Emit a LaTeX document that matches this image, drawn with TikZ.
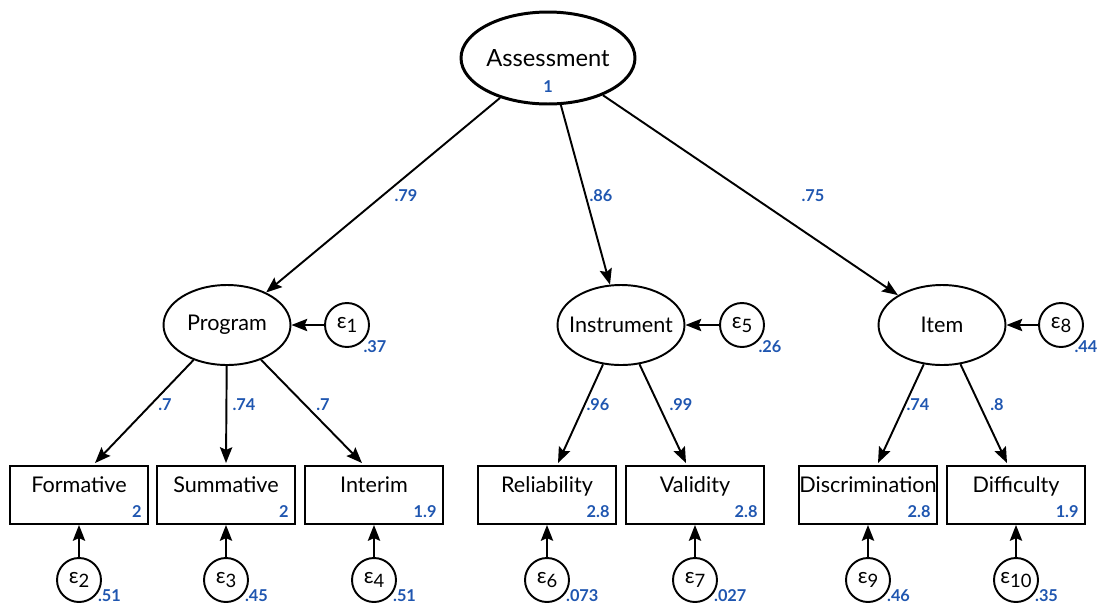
\documentclass[tikz,border=0pt]{standalone}
\usepackage{fontspec}
\setmainfont{Lato}
\usepackage{tikz}
\usetikzlibrary{arrows.meta,positioning,shapes.geometric,calc}
\definecolor{semblue}{HTML}{1F56B0}
\newcommand{\errlbl}[1]{ε\raisebox{-0.4ex}{\fontsize{10.5}{12}\selectfont #1}}
\tikzset{
  lat/.style={ellipse,draw,line width=1.1pt,minimum width=2.54cm,minimum height=1.6cm,inner xsep=-8pt,inner ysep=0pt,font=\fontsize{12.3}{14}\selectfont},
  latt/.style={lat,line width=1.7pt,minimum width=3.48cm,minimum height=1.84cm,font=\fontsize{13.5}{16}\selectfont},
  obs/.style={draw,line width=1.1pt,minimum width=2.76cm,minimum height=1.16cm,inner sep=0pt},
  err/.style={circle,draw,line width=1.1pt,minimum size=0.88cm,inner sep=0pt,font=\fontsize{12.3}{14}\selectfont},
  nm/.style={font=\fontsize{12.3}{14}\selectfont,text height=1.5ex,text depth=0.4ex,inner sep=0pt},
  num/.style={font=\fontsize{9.3}{11}\selectfont\bfseries\color{semblue},inner sep=1pt},
  arr/.style={-{Stealth[length=9pt,width=7pt,inset=1.5pt]},line width=1.1pt},
}
\begin{document}
\begin{tikzpicture}[x=0.02cm,y=-0.02cm]
\useasboundingbox (0,0) rectangle (1099,606);
% latent variables
\node[latt] (A) at (548,58) {Assessment};
\node[num] (Av) at (548,87) {1};
\node[lat] (P) at (227,325) {Program};
\node[lat] (I) at (621,325) {Instrument};
\node[lat] (T) at (942,325) {Item};
% second order loadings
\draw[arr] (A) -- (P); \node[num] (lP) at (406,196) {.79};
\draw[arr] (A) -- (I); \node[num] (lI) at (601,196) {.86};
\draw[arr] (A) -- (T); \node[num] (lT) at (813,196) {.75};
% disturbances
\foreach \l/\e/\x/\k/\v/\dx in {P/e1/347/1/.37/28, I/e5/742/5/.26/28, T/e8/1061/8/.44/25}{
  \node[err] (\e) at (\x,325) {\errlbl{\k}};
  \node[num] (v\e) at ($(\e)+(\dx,22)$) {\v};
  \draw[arr] (\e) -- (\l);
}
% observed indicators
\foreach \n/\x/\t/\m in {F/79/Formative/2, S/226/Summative/2, In/374/Interim/1.9, R/547/Reliability/2.8, V/695/Validity/2.8, D/868/Discrimination/2.8, Df/1016/Difficulty/1.9}
  \node[obs,label={[nm,yshift=0.15cm]center:\t},label={[num,anchor=south east,xshift=-3pt,yshift=3pt]south east:\m}] (\n) at (\x,495) {};
\foreach \a/\b/\dx/\lx/\v in {P/F/16/165/.7, P/S/0/244/.74, P/In/-12/323/.7, I/R/11/598/.96, I/V/-9/681/.99, T/D/10/918/.74, T/Df/-9/997/.8}{
  \draw[arr] (\a) -- ($(\b.north)+(\dx,-2)$);
  \node[num] (l\b) at (\lx,405) {\v};
}
% measurement errors
\foreach \b/\e/\x/\k/\v in {F/e2/79/2/.51, S/e3/226/3/.45, In/e4/374/4/.51, R/e6/547/6/.073, V/e7/695/7/.027, D/e9/868/9/.46, Df/e10/1016/10/.35}{
  \node[err] (\e) at (\x,580) {\errlbl{\k}};
  \node[num,anchor=west] (v\e) at ($(\e)+(17,16)$) {\v};
  \draw[arr] (\e) -- (\b);
}
\end{tikzpicture}
\end{document}
